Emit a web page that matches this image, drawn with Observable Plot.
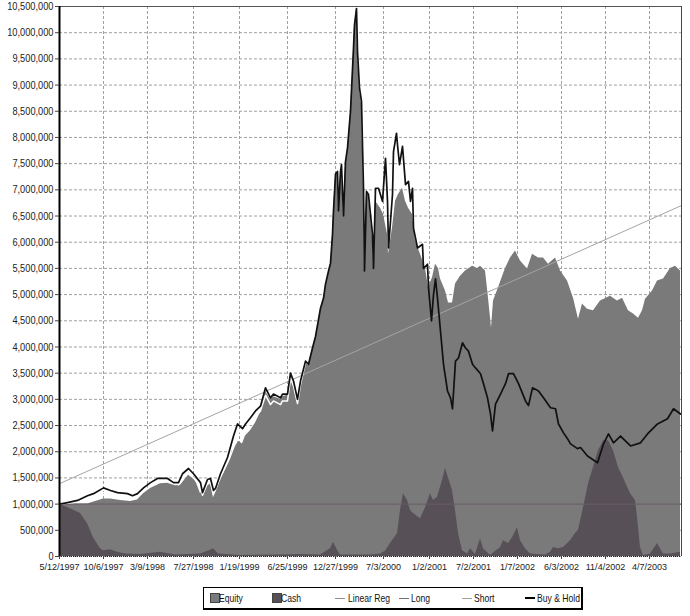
<!DOCTYPE html>
<html><head><meta charset="utf-8">
<script src="https://cdn.jsdelivr.net/npm/d3@7"></script>
<script src="https://cdn.jsdelivr.net/npm/@observablehq/plot@0.6"></script>
<style>
body{margin:0;background:#fff;font-family:"Liberation Sans",Arial,sans-serif;}
#chart{position:absolute;left:0;top:0;}
#legend{position:absolute;left:203px;top:587px;width:377px;height:20px;border:1px solid #000;border-right:2px solid #000;border-bottom:2px solid #000;font-size:11px;color:#111;background:#fff;}
#legend span{position:absolute;top:3px;white-space:nowrap;line-height:14px;display:inline-block;transform:scaleX(0.78);transform-origin:0 50%;}
#legend i{position:absolute;display:block;}
</style></head><body>
<div id="chart"></div>
<div id="legend"></div>
<script>
// x positions are bar indices; values in millions
const tickIdx = [0,22,44,67,90,114,138,162,185,207,229,251,273,295];
const tickLabels = ["5/12/1997","10/6/1997","3/9/1998","7/27/1998","1/19/1999","6/25/1999","12/27/1999","7/3/2000","1/2/2001","7/2/2001","1/7/2002","6/3/2002","11/4/2002","4/7/2003"];
const yTicks = d3.range(0, 10500001, 500000);

const buyHold = [[0,1.0],[4,1.03],[9,1.07],[14,1.16],[17,1.2],[22,1.31],[25.5,1.26],[29,1.22],[34,1.2],[36.5,1.16],[39,1.2],[42,1.31],[45.5,1.41],[49,1.49],[54,1.49],[57,1.41],[59.5,1.41],[61.5,1.58],[64.5,1.68],[67,1.58],[70.5,1.41],[71.5,1.22],[74,1.47],[75.5,1.49],[77,1.26],[78,1.3],[80.5,1.58],[84,1.89],[87,2.3],[89,2.53],[91.5,2.44],[93,2.53],[95.5,2.65],[98,2.78],[100.5,2.87],[103,3.22],[105.5,3.03],[107,3.1],[110.5,3.03],[111.5,3.1],[114,3.1],[115.5,3.5],[117,3.35],[119,3.0],[120.5,3.35],[123,3.73],[124.5,3.67],[126.5,3.98],[128,4.2],[130.5,4.74],[132,4.93],[133,5.2],[134.5,5.45],[135.5,5.6],[136.5,6.15],[137,6.6],[138,7.3],[139,7.35],[139.5,6.6],[140.5,7.35],[141,7.48],[142,6.5],[143,7.54],[144,7.8],[145.5,8.5],[147,9.7],[147.5,10.15],[148.5,10.46],[149,9.64],[150,8.94],[151,8.69],[152,7.03],[152.5,5.45],[153.5,6.97],[154.5,6.91],[156.5,6.15],[157,5.5],[158,7.03],[159.5,7.03],[161.5,6.78],[163,7.6],[164,6.78],[164.5,5.89],[166.5,6.91],[167,7.73],[168.5,8.08],[169,7.86],[170,7.48],[171.5,7.83],[173,7.1],[174.5,7.16],[175.5,6.78],[176.5,7.03],[177,6.27],[179,5.89],[181.5,5.96],[182,5.5],[184,5.58],[184.5,5.13],[186,4.5],[187,5.0],[188,5.3],[189,4.93],[190.5,4.3],[192,3.67],[194,3.16],[195.5,3.03],[196.5,2.82],[198,3.73],[199.5,3.79],[201.5,4.08],[203,3.98],[204.5,3.92],[206.5,3.67],[208,3.6],[210.5,3.49],[212,3.3],[214,3.03],[215.5,2.72],[216.5,2.4],[218,2.91],[220.5,3.1],[223,3.3],[224.5,3.49],[227,3.49],[229.5,3.3],[233,2.97],[234.5,2.88],[236.5,3.22],[239.5,3.16],[242,3.03],[245.5,2.84],[248,2.82],[249.5,2.53],[252,2.36],[254,2.25],[255.5,2.15],[259,2.06],[260.5,2.08],[264,1.92],[269,1.79],[272,2.15],[274.5,2.34],[277,2.17],[280.5,2.3],[285.5,2.11],[290.5,2.17],[294,2.34],[299,2.53],[304,2.63],[307,2.82],[310.5,2.72]];

const equity = [[0,1.0],[14,1.0],[18,1.05],[22,1.1],[25.5,1.1],[30.5,1.07],[35.5,1.05],[39,1.08],[42,1.2],[45.5,1.3],[50.5,1.39],[54,1.4],[58,1.35],[60.5,1.36],[64.5,1.55],[68,1.45],[70.5,1.2],[74,1.35],[75.5,1.38],[77,1.12],[79,1.3],[80.5,1.45],[83,1.65],[85.5,1.85],[88,2.1],[89.5,2.2],[91.5,2.15],[93,2.3],[95.5,2.4],[98,2.55],[100.5,2.75],[103,3.15],[105.5,3.0],[107,3.05],[110.5,3.0],[111.5,3.05],[114,3.08],[115.5,3.45],[117,3.3],[119,2.95],[120.5,3.3],[123,3.7],[124.5,3.65],[126.5,3.95],[128,4.15],[130.5,4.7],[132,4.9],[133,5.15],[134.5,5.4],[135.5,5.55],[136.5,6.1],[137,6.55],[138,7.25],[139,7.3],[139.5,6.6],[140.5,7.3],[141,7.45],[142,6.45],[143,7.5],[144,7.75],[145.5,8.45],[147,9.65],[147.5,10.1],[148.5,10.46],[149,9.6],[150,8.9],[151,8.65],[152,7.0],[152.5,5.45],[153.5,6.95],[154.5,6.88],[156.5,6.1],[157,5.5],[158,6.78],[160.5,6.65],[162,6.53],[164,6.15],[164.5,5.77],[166.5,6.27],[168,6.78],[169.5,6.91],[171.5,7.03],[173,6.78],[174.5,6.65],[176.5,6.53],[178,6.02],[180.5,5.77],[183,5.5],[184.5,5.13],[186.5,5.32],[188,5.58],[189.5,5.5],[190.5,5.3],[193,5.07],[194.5,4.84],[196.5,4.84],[198,5.2],[200.5,5.35],[203,5.45],[206.5,5.54],[209,5.5],[210.5,5.54],[213,5.45],[214.5,4.93],[216,4.36],[217,4.88],[219.5,5.13],[223,5.5],[225.5,5.7],[228,5.83],[230.5,5.64],[234,5.49],[236.5,5.77],[239.5,5.7],[242,5.7],[244.5,5.58],[248,5.7],[250.5,5.45],[254,5.26],[257,4.93],[259.5,4.53],[261.5,4.82],[264,4.72],[267,4.69],[270.5,4.88],[275.5,4.97],[279,4.88],[281.5,4.93],[284.5,4.69],[287,4.63],[289.5,4.55],[291.5,4.69],[293,4.91],[296.5,5.07],[299,5.26],[302,5.3],[305.5,5.5],[308,5.54],[310.5,5.45]];

const cash = [[0,1.0],[5.5,0.91],[10.5,0.82],[14,0.63],[17,0.36],[20.5,0.15],[22,0.11],[25.5,0.13],[29,0.08],[33,0.05],[40.5,0.04],[50.5,0.08],[58,0.03],[70.5,0.05],[75.5,0.12],[77,0.15],[79.5,0.05],[90.5,0.02],[110.5,0.03],[120.5,0.04],[130.5,0.03],[135.5,0.15],[137,0.27],[139,0.12],[140.5,0.03],[155.5,0.03],[160.5,0.05],[163,0.1],[165.5,0.25],[169,0.44],[170.5,0.88],[172,1.2],[174,1.07],[175.5,0.88],[177,0.82],[180.5,0.72],[183,0.93],[185.5,1.2],[187,1.07],[189,1.13],[191.5,1.45],[193,1.68],[194.5,1.5],[196.5,1.26],[198,0.88],[199.5,0.44],[201.5,0.11],[204,0.05],[205.5,0.15],[208,0.04],[210.5,0.34],[212,0.15],[215.5,0.02],[220.5,0.17],[222,0.3],[224.5,0.25],[226.5,0.36],[229,0.55],[230.5,0.3],[233,0.15],[235.5,0.05],[243,0.03],[245.5,0.08],[247,0.17],[249.5,0.15],[252,0.17],[255.5,0.3],[258,0.44],[259.5,0.5],[262,0.93],[264.5,1.39],[267,1.7],[269.5,2.02],[272,2.21],[274.5,2.21],[277,2.02],[279.5,1.7],[282,1.5],[285.5,1.2],[288,1.07],[289,0.74],[290.5,0.17],[292,0.02],[295.5,0.05],[299,0.25],[302,0.05],[305.5,0.05],[310.5,0.08]];

const longEq = [[0,1.0],[9,1.04],[17,1.12],[22,1.22],[29,1.15],[36.5,1.1],[42,1.25],[49,1.43],[54,1.44],[59.5,1.37],[64.5,1.62],[70.5,1.33],[71.5,1.17],[74,1.4],[75.5,1.43],[77,1.2],[80.5,1.52],[84,1.8],[87,2.2],[89,2.42],[91.5,2.33],[93,2.42],[95.5,2.55],[98,2.68],[100.5,2.78],[103,3.08],[105.5,2.9],[107,2.97],[110.5,2.9],[111.5,2.97],[114,2.97],[115.5,3.4],[117,3.25],[119,2.92],[120.5,3.28],[123,3.7]];

const linReg = [[0,1.39],[311,6.7]];
const initialCapital = 1.0;

const M = 1e6;
const toRows = arr => arr.map(([i, v]) => ({i, v: v * M}));

const labelByIdx = new Map(tickIdx.map((d, k) => [d, tickLabels[k]]));
const font = "'Liberation Sans', Arial, sans-serif";

const chart = Plot.plot({
  width: 690, height: 582,
  marginLeft: 59, marginRight: 9, marginTop: 6, marginBottom: 26,
  style: {fontFamily: font, fontSize: "11px", color: "#222", background: "#fff", overflow: "visible"},
  x: {domain: [0, 311], axis: null},
  y: {domain: [0, 10.5e6], axis: null},
  marks: [
    Plot.gridY(yTicks, {stroke: "#a0a0a0", strokeOpacity: 1, strokeDasharray: "3,2"}),
    Plot.gridX(tickIdx, {stroke: "#a0a0a0", strokeOpacity: 1, strokeDasharray: "3,2"}),
    Plot.areaY(toRows(equity), {x: "i", y: "v", fill: "#7a7a7a"}),
    Plot.areaY(toRows(cash), {x: "i", y: "v", fill: "#575157"}),
    Plot.ruleY([initialCapital * M], {stroke: "#6a5a6a", strokeWidth: 1}),
    Plot.line(toRows(linReg), {x: "i", y: "v", stroke: "#a4a4a4", strokeWidth: 1}),
    Plot.line(toRows(longEq), {x: "i", y: "v", stroke: "#ffffff", strokeWidth: 1.5}),
    Plot.line(toRows(buyHold), {x: "i", y: "v", stroke: "#111", strokeWidth: 1.7}),
    Plot.ruleY([10.5e6], {stroke: "#555"}),
    Plot.ruleX([311], {stroke: "#444"}),
    Plot.ruleY([0], {stroke: "#222", strokeDasharray: "1,1"}),
    Plot.ruleX([0], {stroke: "#000", strokeWidth: 2}),
    Plot.axisY(yTicks, {label: null, tickFormat: d3.format(","), tickSize: 4, tickPadding: 2, fill: "#222", stroke: "#444", fontSize: 11, className: "yax"}),
    Plot.axisX(tickIdx, {label: null, tickFormat: d => labelByIdx.get(d), tickSize: 3, tickPadding: 4, fill: "#222", stroke: "#444", fontSize: 9.5, className: "xax"})
  ]
});
document.getElementById("chart").appendChild(chart);

// condense tick label glyphs to match the narrow bitmap font of the original
function condense(sel, factor) {
  chart.querySelectorAll(sel).forEach(t => {
    const L = t.getComputedTextLength();
    if (L > 0) {
      t.setAttribute("textLength", (L * factor).toFixed(1));
      t.setAttribute("lengthAdjust", "spacingAndGlyphs");
    }
  });
}
condense(".yax text", 0.84);
condense(".xax text", 0.95);

// legend
const legendItems = [
  {name: "Equity", kind: "box", color: "#7a7a7a", sx: 6, tx: 15},
  {name: "Cash", kind: "box", color: "#575157", sx: 68, tx: 77},
  {name: "Linear Reg", kind: "line", color: "#909090", sx: 131, tx: 144, w: 1},
  {name: "Long", kind: "line", color: "#707070", sx: 195, tx: 207, w: 1},
  {name: "Short", kind: "line", color: "#a0a0a0", sx: 258, tx: 270, w: 1},
  {name: "Buy & Hold", kind: "line", color: "#000", sx: 321, tx: 333, w: 2}
];
const lg = document.getElementById("legend");
for (const it of legendItems) {
  const sw = document.createElement("i");
  if (it.kind === "box") {
    Object.assign(sw.style, {left: it.sx + "px", top: "5px", width: "8px", height: "8px", background: it.color, border: "1px solid #444"});
  } else {
    Object.assign(sw.style, {left: it.sx + "px", top: (10 - it.w / 2) + "px", width: "10px", height: it.w + "px", background: it.color});
  }
  lg.appendChild(sw);
  const t = document.createElement("span");
  t.textContent = it.name;
  t.style.left = it.tx + "px";
  lg.appendChild(t);
}
</script>
</body></html>
